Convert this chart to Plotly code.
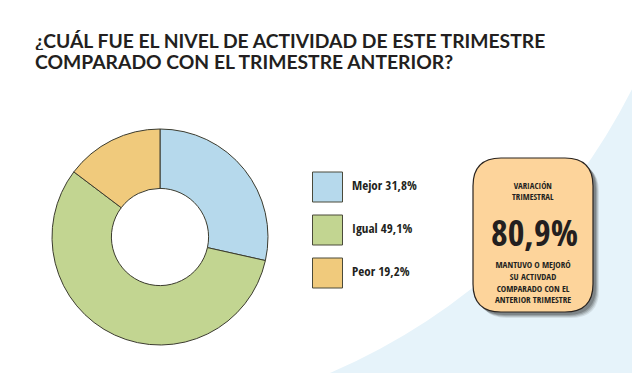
import plotly.graph_objects as go

# ---- data ----
categories = ["Mejor", "Igual", "Peor"]
label_pct = ["31,8%", "49,1%", "19,2%"]          # percentages printed in the legend
slice_share = [28.5, 56.8, 14.7]                  # slice sizes as drawn in the picture
colors = ["#b6d9ec", "#c2d591", "#f0ca7c"]
title_lines = ["¿CUÁL FUE EL NIVEL DE ACTIVIDAD DE ESTE TRIMESTRE",
               "COMPARADO CON EL TRIMESTRE ANTERIOR?"]
box_head = ["VARIACIÓN", "TRIMESTRAL"]
box_value = "80,9%"
box_foot = ["MANTUVO O MEJORÓ", "SU ACTIVDAD", "COMPARADO CON EL", "ANTERIOR TRIMESTRE"]

# page geometry (the html body has an 8px margin)
OX, OY = 8, 8
PW, PH = 640, 373
FW, FH = PW - OX, PH - OY
FONT = "Open Sans Condensed, Roboto Condensed, sans-serif"
TFONT = "Lato, Open Sans, sans-serif"
INK = "#231f20"

fig = go.Figure()

# donut
cx, cy, r = 160, 237, 108
fig.add_trace(go.Pie(
    labels=categories, values=slice_share, sort=False, direction="clockwise",
    rotation=0, hole=0.45, textinfo="none", hoverinfo="label",
    marker=dict(colors=colors, line=dict(color="#3b3b2e", width=1)),
    domain=dict(x=[(cx - r - OX) / FW, (cx + r - OX) / FW],
                y=[1 - (cy + r - OY) / FH, 1 - (cy - r - OY) / FH]),
    showlegend=False,
))

# legend drawn as square markers plus labels
lx, ly0, lstep, ltx = 327.5, 187, 43, 352
ly = [ly0 + i * lstep for i in range(len(categories))]
fig.add_trace(go.Scatter(
    x=[lx] * len(categories), y=ly,
    mode="markers", marker=dict(symbol="square", size=30, color=colors,
                                line=dict(color="#4a4a3a", width=1)),
    showlegend=False, hoverinfo="skip", cliponaxis=False,
))
fig.add_trace(go.Scatter(
    x=[ltx] * len(categories), y=ly, mode="text",
    text=[f"<b>{c} {p}</b>" for c, p in zip(categories, label_pct)],
    textposition="middle right", textfont=dict(family=FONT, size=13, color=INK),
    showlegend=False, hoverinfo="skip", cliponaxis=False,
))


def rrect(x0, y0, x1, y1, rad):
    return (f"M {x0+rad},{y0} L {x1-rad},{y0} Q {x1},{y0} {x1},{y0+rad} "
            f"L {x1},{y1-rad} Q {x1},{y1} {x1-rad},{y1} L {x0+rad},{y1} "
            f"Q {x0},{y1} {x0},{y1-rad} L {x0},{y0+rad} Q {x0},{y0} {x0+rad},{y0} Z")


shapes = [
    # light blue background sweep
    dict(type="path", path="M 330,380 L 330,373 Q 541,281 640,73 L 650,73 L 650,380 Z",
         xref="x", yref="y", fillcolor="#e6f3fa", line=dict(width=0), layer="below"),
]
bx0, by0, bx1, by1, br = 473, 158, 593, 312, 28
for off, op in [(6, 0.10), (5, 0.15), (4, 0.2), (3, 0.25)]:
    shapes.append(dict(type="path", path=rrect(bx0 + off, by0 + off, bx1 + off, by1 + off, br),
                       xref="x", yref="y", fillcolor=f"rgba(40,40,40,{op})",
                       line=dict(width=0), layer="below"))
shapes.append(dict(type="path", path=rrect(bx0, by0, bx1, by1, br), xref="x", yref="y",
                   fillcolor="#fdd49b", line=dict(color="#2a2420", width=1.2), layer="below"))

annotations = []
for i, t in enumerate(title_lines):
    annotations.append(dict(x=33, y=40 + i * 21, xref="x", yref="y", text=f"<b>{t}</b>",
                            showarrow=False, xanchor="left", yanchor="middle", height=20,
                            font=dict(family=TFONT, size=19.3, color=INK)))
bcx = (bx0 + bx1) / 2
annotations.append(dict(x=bcx, y=191, xref="x", yref="y",
                        text="<br>".join(f"<b>{t}</b>" for t in box_head),
                        showarrow=False, font=dict(family=FONT, size=8.8, color=INK)))
annotations.append(dict(x=bcx + 1, y=232, xref="x", yref="y", text=f"<b>{box_value}</b>",
                        showarrow=False, font=dict(family=FONT, size=36, color=INK)))
annotations.append(dict(x=bcx, y=281.5, xref="x", yref="y",
                        text="<br>".join(f"<b>{t}</b>" for t in box_foot),
                        showarrow=False, font=dict(family=FONT, size=9.1, color=INK)))

fig.update_layout(
    width=FW, height=FH, margin=dict(l=0, r=0, t=0, b=0),
    paper_bgcolor="white", plot_bgcolor="rgba(0,0,0,0)",
    xaxis=dict(range=[OX, PW], visible=False, fixedrange=True),
    yaxis=dict(range=[PH, OY], visible=False, fixedrange=True),
    shapes=shapes, annotations=annotations, showlegend=False,
)

fig.write_html("out.html")
